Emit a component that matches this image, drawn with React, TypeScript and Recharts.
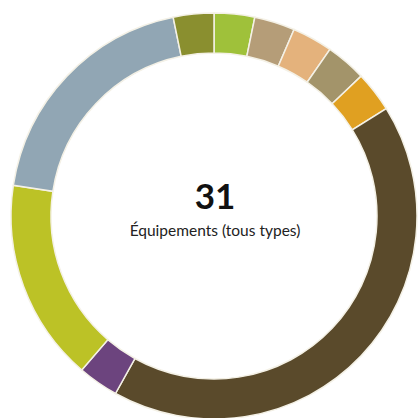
import * as React from "react"
import { Cell, Pie, PieChart } from "recharts"

// equipment counts, clockwise from 12 o'clock
const categories = [
  "Catégorie A",
  "Catégorie B",
  "Catégorie C",
  "Catégorie D",
  "Catégorie E",
  "Catégorie F",
  "Catégorie G",
  "Catégorie H",
  "Catégorie I",
  "Catégorie J",
]
const counts = [1, 1, 1, 1, 1, 13, 1, 5, 6, 1]
const colors = [
  "#9fc13a",
  "#b59d78",
  "#e4b27c",
  "#a3946a",
  "#e0a021",
  "#5a4a2b",
  "#6c447e",
  "#bcc226",
  "#91a6b4",
  "#8a8f2f",
]
const totalLabel = "Équipements (tous types)"

const data = categories.map((name, i) => ({ name, value: counts[i] }))
const total = counts.reduce((a, b) => a + b, 0)

export default function App() {
  return (
    <div style={{ position: "absolute", left: 0, top: 0, width: 418, height: 418 }}>
      <PieChart width={418} height={418} margin={{ top: 0, right: 0, bottom: 0, left: 0 }}>
        <Pie
          data={data}
          dataKey="value"
          cx={214}
          cy={216}
          innerRadius={163}
          outerRadius={203}
          startAngle={90}
          endAngle={-270}
          stroke="#f4f1e6"
          strokeWidth={1.5}
          isAnimationActive={false}
        >
          {data.map((d, i) => (
            <Cell key={d.name} fill={colors[i]} />
          ))}
        </Pie>
        <text
          x={215}
          y={209}
          textAnchor="middle"
          fontFamily="Lato"
          fontWeight={700}
          fontSize={35}
          fill="#111"
        >
          {total}
        </text>
        <text
          x={215}
          y={236}
          textAnchor="middle"
          fontFamily="Lato"
          fontSize={15.5}
          fill="#222"
        >
          {totalLabel}
        </text>
      </PieChart>
    </div>
  )
}
